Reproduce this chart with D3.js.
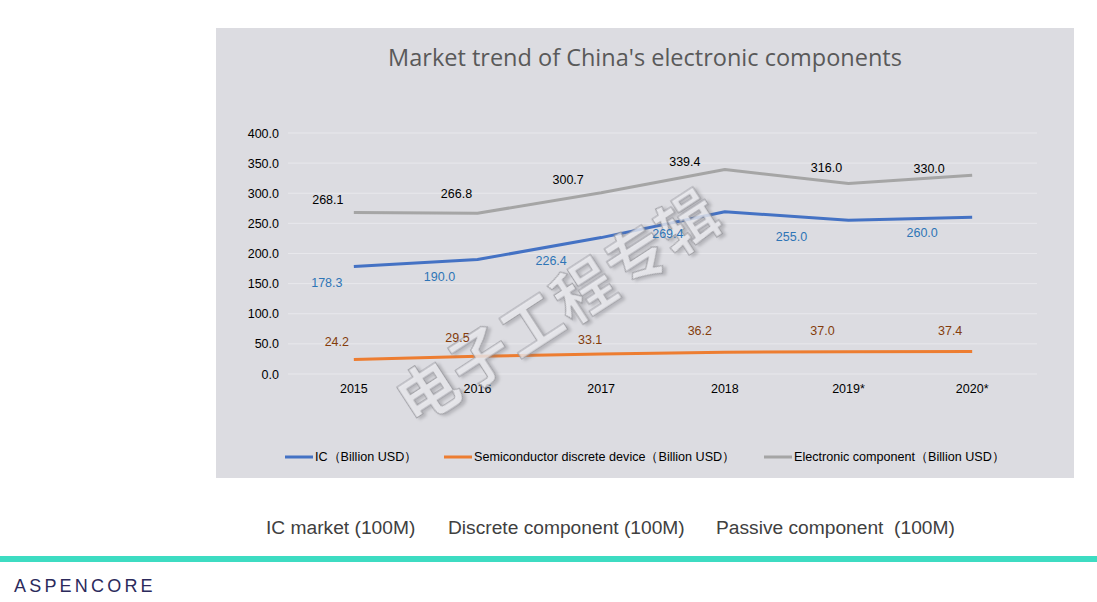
<!DOCTYPE html>
<html><head><meta charset="utf-8">
<script src="https://cdn.jsdelivr.net/npm/d3@7"></script>
<style>
html,body{margin:0;padding:0;background:#fff;}
svg{display:block;}
</style></head>
<body>
<svg id="c" width="1097" height="602"></svg>
<script>
const years = ["2015","2016","2017","2018","2019*","2020*"];
const icValues = [178.3, 190.0, 226.4, 269.4, 255.0, 260.0];
const discreteValues = [24.2, 29.5, 33.1, 36.2, 37.0, 37.4];
const electronicValues = [268.1, 266.8, 300.7, 339.4, 316.0, 330.0];
const yTicks = [0, 50, 100, 150, 200, 250, 300, 350, 400];
const seriesNames = ["IC（Billion USD）", "Semiconductor discrete device（Billion USD）", "Electronic component（Billion USD）"];
const footerLabels = ["IC market (100M)", "Discrete component (100M)", "Passive component  (100M)"];

// label placement offsets (layout, px) relative to each point
const icLabelOff = [[-27,16],[-38,17],[-50,23],[-57,22],[-57,17],[-50,16]];
const discLabelOff = [[-17,-17],[-20,-18],[-11,-14],[-25,-21],[-26,-21],[-22,-20]];
const elecLabelOff = [[-26,-12],[-21,-19],[-33,-13],[-40,-8],[-22,-16],[-43,-6]];

const svg = d3.select("#c");
const F = "'Liberation Sans', Arial, sans-serif";

const defs = svg.append("defs");
const flt = defs.append("filter").attr("id","sh").attr("x","-10%").attr("y","-10%").attr("width","130%").attr("height","130%");
flt.append("feDropShadow").attr("dx",2).attr("dy",3).attr("stdDeviation",1.5).attr("flood-color","#6e6e74").attr("flood-opacity",0.45);

// panel
svg.append("rect").attr("x",216).attr("y",28).attr("width",858).attr("height",450).attr("fill","#dcdce1");

svg.append("text").attr("x",645).attr("y",66).attr("text-anchor","middle")
  .attr("font-family","'Open Sans','Noto Sans',sans-serif").attr("font-weight",400)
  .attr("font-size",23.5).attr("fill","#595959").text("Market trend of China's electronic components");

const x = d3.scaleBand().domain(years).range([292,1034]);
const y = d3.scaleLinear().domain([0,400]).range([374,133]);
const cx = d => x(d) + x.bandwidth()/2;

// gridlines
svg.append("g").selectAll("line").data(yTicks).join("line")
  .attr("x1",288).attr("x2",1037).attr("y1",d=>y(d)).attr("y2",d=>y(d))
  .attr("stroke","#e8e8ec").attr("stroke-width",1);

// y axis
const yAxis = svg.append("g").attr("transform","translate(288,0)")
  .call(d3.axisLeft(y).tickValues(yTicks).tickSize(0).tickPadding(9).tickFormat(d3.format(".1f")));
yAxis.select(".domain").remove();
yAxis.selectAll("text").attr("font-family",F).attr("font-size",12.5).attr("fill","#000");

// x axis
const xAxis = svg.append("g").attr("transform","translate(0,374)")
  .call(d3.axisBottom(x).tickSize(0).tickPadding(10));
xAxis.select(".domain").remove();
xAxis.selectAll("text").attr("font-family",F).attr("font-size",12.5).attr("fill","#000");

const series = [
  {vals: electronicValues, color:"#a5a5a5", lab:"#000000", off: elecLabelOff},
  {vals: icValues, color:"#4472c4", lab:"#2e75b6", off: icLabelOff},
  {vals: discreteValues, color:"#ed7d31", lab:"#843c0c", off: discLabelOff}
];
const line = d3.line().x((d,i)=>cx(years[i])).y(d=>y(d));
series.forEach(s=>{
  svg.append("path").datum(s.vals).attr("d",line).attr("fill","none")
    .attr("stroke",s.color).attr("stroke-width",3).attr("stroke-linejoin","round");
});

// watermark
svg.append("text").attr("transform","translate(556,303) rotate(-33)")
  .attr("text-anchor","middle").attr("dominant-baseline","central")
  .attr("font-family","'Noto Sans CJK SC',sans-serif").attr("font-size",60).attr("font-weight",700)
  .attr("letter-spacing",2)
  .attr("fill","#eeeef1").attr("fill-opacity",0.75).attr("stroke","#909096").attr("stroke-opacity",0.75).attr("stroke-width",1.1)
  .attr("filter","url(#sh)")
  .text("电子工程专辑");

// data labels
series.forEach(s=>{
  svg.append("g").selectAll("text").data(s.vals).join("text")
    .attr("x",(d,i)=>cx(years[i]) + s.off[i][0])
    .attr("y",(d,i)=>y(d) + s.off[i][1])
    .attr("text-anchor","middle").attr("dominant-baseline","central")
    .attr("font-family",F).attr("font-size",12.5).attr("fill",s.lab)
    .text(d=>d3.format(".1f")(d));
});

// legend
const legX = [285, 444, 764];
const legColors = ["#4472c4","#ed7d31","#a5a5a5"];
seriesNames.forEach((n,i)=>{
  svg.append("line").attr("x1",legX[i]).attr("x2",legX[i]+28).attr("y1",457).attr("y2",457)
    .attr("stroke",legColors[i]).attr("stroke-width",3);
  svg.append("text").attr("x",legX[i]+30).attr("y",457).attr("dominant-baseline","central")
    .attr("font-family",F).attr("font-size",12.6).attr("fill","#000").text(n);
});

// footer labels
const footX = [266, 448, 716];
footerLabels.forEach((t,i)=>{
  svg.append("text").attr("x",footX[i]).attr("y",527).attr("dominant-baseline","central")
    .attr("font-family",F).attr("font-size",19.2).attr("fill","#404040")
    .style("white-space","pre").text(t);
});

svg.append("rect").attr("x",0).attr("y",556).attr("width",1097).attr("height",6).attr("fill","#3ddcc2");

svg.append("text").attr("x",14).attr("y",586).attr("dominant-baseline","central")
  .attr("font-family","'Liberation Sans',Arial,sans-serif").attr("font-size",18).attr("letter-spacing",3.2)
  .attr("fill","#2b2a5c").text("ASPENCORE");
</script>
</body></html>
